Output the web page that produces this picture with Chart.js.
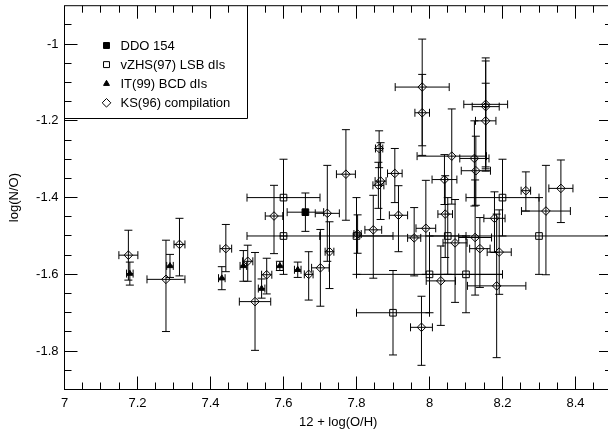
<!DOCTYPE html>
<html><head><meta charset="utf-8">
<script src="https://cdn.jsdelivr.net/npm/chart.js@4/dist/chart.umd.min.js"></script>
<style>
html,body{margin:0;padding:0;overflow:hidden;background:#fff;width:608px;height:433px}
#wrap{position:absolute;left:0;top:0;width:620px;height:433px}
</style>
</head><body><div id="wrap"><canvas id="c" width="620" height="433"></canvas></div>
<script>
// ---------- axes ----------
const xTickLabels = [7, 7.2, 7.4, 7.6, 7.8, 8, 8.2, 8.4];
const yTickLabels = [-1.8, -1.6, -1.4, -1.2, -1];
const xRange = [7, 8.5];
const yRange = [-1.9, -0.9];
const xTitle = '12 + log(O/H)';
const yTitle = 'log(N/O)';
const seriesNames = ['DDO 154', 'vZHS(97) LSB dIs', 'IT(99) BCD dIs', 'KS(96) compilation'];

// ---------- DDO 154 ----------
const ddoX = [7.66];
const ddoY = [-1.438];
const ddoXErr = [0.05];
const ddoYErr = [0.05];

// ---------- vZHS(97) LSB dIs ----------
const vzX = [7.6, 7.6, 7.8, 7.9, 8.0, 8.05, 8.1, 8.2, 8.3];
const vzY = [-1.4, -1.5, -1.5, -1.7, -1.6, -1.5, -1.6, -1.4, -1.5];
const vzXErr = [0.1, 0.1, 0.1, 0.1, 0.2, 0.05, 0.1, 0.1, 0.5];
const vzYErr = [0.1, 0.1, 0.1, 0.11, 0.1, 0.1, 0.1, 0.1, 0.1];

// ---------- IT(99) BCD dIs ----------
const itX = [7.179, 7.289, 7.431, 7.490, 7.540, 7.590, 7.639];
const itY = [-1.598, -1.578, -1.610, -1.578, -1.637, -1.578, -1.588];
const itXErr = [0.009, 0.009, 0.009, 0.009, 0.009, 0.009, 0.009];
const itYErr = [0.03, 0.03, 0.03, 0.04, 0.025, 0.012, 0.02];

// ---------- KS(96) compilation ----------
const ksX = [7.175, 7.278, 7.315, 7.442, 7.502, 7.522, 7.554, 7.574, 7.669, 7.701, 7.720, 7.726, 7.771, 7.803, 7.846, 7.862, 7.866, 7.860, 7.905, 7.915, 7.958, 7.978, 7.980, 7.980, 7.990, 8.031, 8.041, 8.043, 8.061, 8.070, 8.123, 8.127, 8.154, 8.154, 8.154, 8.125, 8.138, 8.178, 8.191, 8.184, 8.264, 8.319, 8.360];
const ksY = [-1.550, -1.613, -1.522, -1.533, -1.566, -1.671, -1.601, -1.448, -1.600, -1.583, -1.441, -1.541, -1.339, -1.495, -1.484, -1.272, -1.357, -1.368, -1.337, -1.446, -1.505, -1.738, -1.112, -1.179, -1.480, -1.617, -1.353, -1.443, -1.292, -1.518, -1.298, -1.330, -1.157, -1.163, -1.200, -1.504, -1.533, -1.454, -1.542, -1.630, -1.382, -1.435, -1.376];
const ksXErr = [0.026, 0.052, 0.015, 0.016, 0.014, 0.043, 0.014, 0.024, 0.012, 0.024, 0.033, 0.012, 0.026, 0.01, 0.023, 0.01, 0.015, 0.015, 0.02, 0.025, 0.018, 0.03, 0.074, 0.02, 0.027, 0.04, 0.034, 0.02, 0.095, 0.033, 0.04, 0.04, 0.06, 0.037, 0.028, 0.045, 0.028, 0.029, 0.033, 0.08, 0.013, 0.067, 0.033];
const ksYErrLo = [0.065, 0.136, 0.082, 0.06, 0.052, 0.127, 0.05, 0.098, 0.067, 0.1, 0.125, 0.096, 0.12, 0.05, 0.126, 0.05, 0.1, 0.06, 0.076, 0.095, 0.099, 0.099, 0.153, 0.111, 0.12, 0.116, 0.065, 0.113, 0.125, 0.155, 0.124, 0.09, 0.163, 0.162, 0.131, 0.15, 0.101, 0.089, 0.11, 0.187, 0.053, 0.166, 0.089];
const ksYErrHi = [0.065, 0.102, 0.068, 0.063, 0.042, 0.128, 0.043, 0.08, 0.059, 0.1, 0.125, 0.078, 0.116, 0.05, 0.09, 0.046, 0.1, 0.06, 0.065, 0.077, 0.079, 0.081, 0.125, 0.1, 0.125, 0.091, 0.065, 0.1, 0.123, 0.113, 0.098, 0.09, 0.121, 0.119, 0.098, 0.15, 0.081, 0.069, 0.11, 0.187, 0.049, 0.119, 0.074];

// ---------- build ----------
const FONT = '"Liberation Sans", Arial, Helvetica, sans-serif';
Chart.defaults.font.family = FONT;
Chart.defaults.font.size = 13;
Chart.defaults.color = '#000';

function pts(xs, ys) { return xs.map((x, i) => ({x: x, y: ys[i]})); }

const datasets = [
  {label: seriesNames[0], data: pts(ddoX, ddoY), xe: ddoXErr, yeLo: ddoYErr, yeHi: ddoYErr,
   pointStyle: 'rect', pointRadius: 4.7, backgroundColor: '#000', borderColor: '#000', borderWidth: 1},
  {label: seriesNames[1], data: pts(vzX, vzY), xe: vzXErr, yeLo: vzYErr, yeHi: vzYErr,
   pointStyle: 'rect', pointRadius: 4.7, backgroundColor: 'rgba(0,0,0,0)', borderColor: '#000', borderWidth: 1},
  {label: seriesNames[2], data: pts(itX, itY), xe: itXErr, yeLo: itYErr, yeHi: itYErr,
   pointStyle: 'triangle', pointRadius: 3.4, backgroundColor: '#000', borderColor: '#000', borderWidth: 1},
  {label: seriesNames[3], data: pts(ksX, ksY), xe: ksXErr, yeLo: ksYErrLo, yeHi: ksYErrHi,
   pointStyle: 'rectRot', pointRadius: 4.3, backgroundColor: 'rgba(0,0,0,0)', borderColor: '#000', borderWidth: 1}
];

const CAP = 4;
const errorBars = {
  id: 'errorBars',
  beforeDatasetsDraw(chart) {
    const {ctx, chartArea: a, scales: {x, y}} = chart;
    ctx.save();
    ctx.beginPath();
    ctx.rect(a.left, a.top, a.right - a.left, a.bottom - a.top);
    ctx.clip();
    ctx.strokeStyle = '#000';
    ctx.lineWidth = 1;
    chart.data.datasets.forEach(ds => {
      ds.data.forEach((p, i) => {
        const px = x.getPixelForValue(p.x), py = y.getPixelForValue(p.y);
        const xe = ds.xe[i], lo = ds.yeLo[i], hi = ds.yeHi[i];
        ctx.beginPath();
        if (xe) {
          const x1 = x.getPixelForValue(p.x - xe), x2 = x.getPixelForValue(p.x + xe);
          ctx.moveTo(x1, py); ctx.lineTo(x2, py);
          ctx.moveTo(x1, py - CAP); ctx.lineTo(x1, py + CAP);
          ctx.moveTo(x2, py - CAP); ctx.lineTo(x2, py + CAP);
        }
        if (lo || hi) {
          const y1 = y.getPixelForValue(p.y - lo), y2 = y.getPixelForValue(p.y + hi);
          ctx.moveTo(px, y1); ctx.lineTo(px, y2);
          ctx.moveTo(px - CAP, y1); ctx.lineTo(px + CAP, y1);
          ctx.moveTo(px - CAP, y2); ctx.lineTo(px + CAP, y2);
        }
        ctx.stroke();
      });
    });
    ctx.restore();
  }
};

const frameAndLegend = {
  id: 'frameAndLegend',
  afterDraw(chart) {
    const {ctx, chartArea: a, scales: {x, y}} = chart;
    ctx.save();
    ctx.strokeStyle = '#000';
    ctx.lineWidth = 1;
    ctx.strokeRect(a.left, a.top, a.right - a.left, a.bottom - a.top);
    ctx.beginPath();
    const nx = Math.round((xRange[1] - xRange[0]) / 0.05);
    for (let k = 1; k < nx; k++) {
      const v = xRange[0] + k * 0.05;
      const px = Math.floor(x.getPixelForValue(v)) + 0.5;
      const len = (k % 4 === 0) ? 13 : 7;
      ctx.moveTo(px, a.bottom); ctx.lineTo(px, a.bottom - len);
      ctx.moveTo(px, a.top); ctx.lineTo(px, a.top + len);
    }
    const ny = Math.round((yRange[1] - yRange[0]) / 0.05);
    for (let k = 1; k < ny; k++) {
      const v = yRange[0] + k * 0.05;
      const py = Math.floor(y.getPixelForValue(v)) + 0.5;
      const len = ((k - 2) % 4 === 0) ? 13 : 7;
      ctx.moveTo(a.left, py); ctx.lineTo(a.left + len, py);
      ctx.moveTo(a.right, py); ctx.lineTo(a.right - len, py);
    }
    ctx.stroke();

    // legend box
    const bx2 = 247.5, by2 = 118.5;
    ctx.beginPath();
    ctx.moveTo(a.left, by2); ctx.lineTo(bx2, by2); ctx.lineTo(bx2, a.top);
    ctx.stroke();
    ctx.font = '13px ' + FONT;
    ctx.textBaseline = 'middle';
    ctx.textAlign = 'left';
    chart.data.datasets.forEach((ds, i) => {
      const ly = a.top + 39.8 + i * 19.1;
      ctx.fillStyle = ds.backgroundColor;
      ctx.strokeStyle = '#000';
      ctx.lineWidth = 1;
      Chart.helpers.drawPoint(ctx, {
        pointStyle: ds.pointStyle,
        radius: ds.pointStyle === 'rectRot' ? 4.3 : (ds.pointStyle === 'triangle' ? 3.4 : 4.2),
        borderWidth: 1, rotation: 0
      }, 106.5, ly);
      ctx.fillStyle = '#000';
      ctx.fillText(ds.label, 120.5, ly + 0.5);
    });
    ctx.restore();
  }
};

new Chart(document.getElementById('c'), {
  type: 'scatter',
  data: {datasets: datasets},
  options: {
    responsive: false,
    animation: false,
    devicePixelRatio: 1,
    layout: {padding: {left: 0, top: 3.5, right: 8, bottom: 0}},
    plugins: {legend: {display: false}, tooltip: {enabled: false}},
    scales: {
      x: {
        type: 'linear', min: xRange[0], max: xRange[1],
        grid: {display: false, drawTicks: false, tickLength: 0},
        border: {display: false},
        afterBuildTicks: s => { s.ticks = xTickLabels.map(v => ({value: v})); },
        afterFit: s => { s.height = 43.5; s.paddingLeft = 0; s.paddingRight = 0; },
        ticks: {padding: 6, maxRotation: 0, autoSkip: false, callback: v => String(v)},
        title: {display: true, text: xTitle, padding: {top: 0, bottom: 2.5}}
      },
      y: {
        type: 'linear', min: yRange[0], max: yRange[1],
        grid: {display: false, drawTicks: false, tickLength: 0},
        border: {display: false},
        afterBuildTicks: s => { s.ticks = yTickLabels.map(v => ({value: v})); },
        afterFit: s => { s.width = 64.5; s.paddingTop = 0; s.paddingBottom = 0; },
        ticks: {padding: 6, autoSkip: false, callback: v => String(v)},
        title: {display: true, text: yTitle, padding: {top: 7, bottom: 0}}
      }
    }
  },
  plugins: [errorBars, frameAndLegend]
});
</script>
</body></html>
